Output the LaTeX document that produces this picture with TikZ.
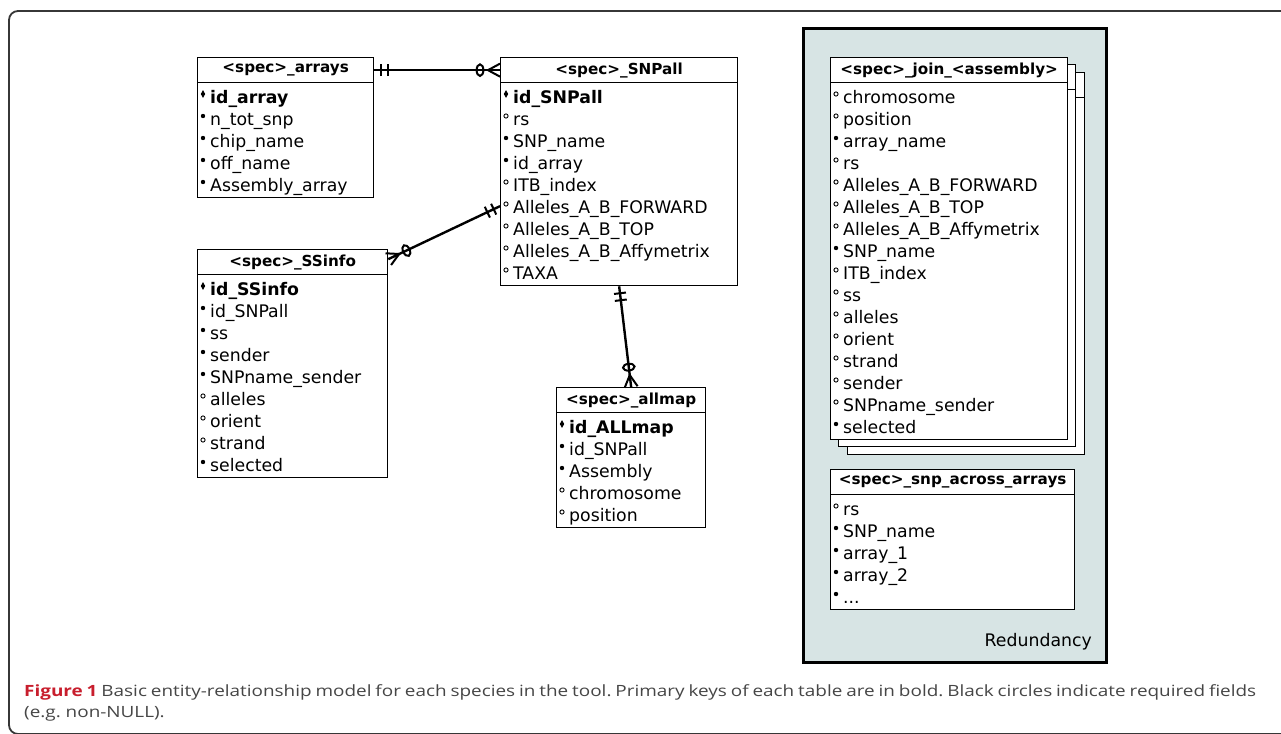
\documentclass[tikz,border=0pt]{standalone}
\usepackage{fontspec}
\setmainfont{DejaVu Sans}
\newfontfamily\capfont[FakeStretch=1.22]{Open Sans}
\usetikzlibrary{calc,decorations.markings}
\definecolor{panel}{RGB}{215,228,228}
\definecolor{figred}{RGB}{200,30,45}
\definecolor{capgray}{RGB}{70,70,70}
\definecolor{framegray}{RGB}{55,55,55}
\newcommand\fmk{\bfseries}
\newcommand\fmr{}
\newcommand\fmo{}
\newcommand\threedots{...}
\newcommand\dmk[1]{\fill (#1) ++(0pt,3.9pt) -- ++(2.2pt,-3.9pt) -- ++(-2.2pt,-3.9pt) -- ++(-2.2pt,3.9pt) -- cycle;}
\newcommand\dmr[1]{\fill (#1) circle (2.2pt);}
\newcommand\dmo[1]{\draw[line width=0.9pt] (#1) circle (2.1pt);}
\tikzset{
 tbl/.style={draw, line width=1.3pt, fill=white, inner sep=0pt, anchor=north west},
 hdr/.style={draw, line width=1.3pt, fill=white, inner sep=0pt, anchor=north west,
   minimum height=25pt, font=\bfseries\fontsize{15.2}{18}\selectfont},
 fld/.style={inner sep=0pt, anchor=base west, font=\fontsize{17.3}{22}\selectfont},
 er/.style={line width=2.4pt, postaction=decorate, decoration={markings,
   mark=at position 7pt with {\draw[line width=2pt] (0pt,-6pt)--(0pt,6pt);},
   mark=at position 14pt with {\draw[line width=2pt] (0pt,-6pt)--(0pt,6pt);},
   mark=at position -20pt with {\draw[line width=2pt] (0pt,0pt) ellipse [x radius=3.4pt, y radius=5.8pt];},
   mark=at position -12pt with {\draw[line width=2pt] (0pt,0pt)--(12pt,6.5pt) (0pt,0pt)--(12pt,-6.5pt);}}},
 captext/.style={anchor=base west, inner sep=0pt, font=\capfont\fontsize{15.5}{18}\selectfont\frenchspacing, text=capgray}
}
% #1 name, #2 x, #3 y, #4 width, #5 rows, #6 header, #7 list
\newcommand\ertable[7]{%
 \node[hdr, minimum width=#4pt] (#1H) at (#2,#3) {#6};
 \node[tbl, minimum width=#4pt, minimum height={27pt+22pt*(#5-1)}] (#1) at (#2,{#3+25}) {};
 \foreach \t/\s [count=\i from 0] in {#7} {
   \node[fld] (#1-\i) at ({#2+13},{#3+46+22*\i}) {\csname f\t\endcsname\s};
   \csname d\t\endcsname{{#2+6},{#3+37+22*\i}}
 }%
}
\begin{document}
\frenchspacing
\begin{tikzpicture}[x=1pt,y=-1pt]
\useasboundingbox (0,0) rectangle (1281,733);
\clip (0,0) rectangle (1281,733);
\fill[white] (0,0) rectangle (1281,733);
\draw[framegray, line width=1.8pt, rounded corners=9pt] (9,11) rectangle (1330,734);

% redundancy panel
\draw[fill=panel, line width=3pt] (803,29) rectangle (1106,662);

\ertable{arrays}{197}{57}{176}{5}{<spec>\_arrays}{mk/id\_array, mr/n\_tot\_snp, mr/chip\_name, mr/off\_name, mr/Assembly\_array}
\ertable{snpall}{500}{57}{237}{9}{<spec>\_SNPall}{mk/id\_SNPall, mo/rs, mr/SNP\_name, mr/id\_array, mo/ITB\_index, mo/Alleles\_A\_B\_FORWARD, mo/Alleles\_A\_B\_TOP, mo/Alleles\_A\_B\_Affymetrix, mo/TAXA}
\ertable{ssinfo}{197}{249}{190}{9}{<spec>\_SSinfo}{mk/id\_SSinfo, mr/id\_SNPall, mr/ss, mr/sender, mr/SNPname\_sender, mo/alleles, mo/orient, mo/strand, mr/selected}
\ertable{allmap}{556}{387}{149}{5}{<spec>\_allmap}{mk/id\_ALLmap, mr/id\_SNPall, mr/Assembly, mo/chromosome, mo/position}

% stacked copies of join table
\node[hdr, minimum width=237pt] (joinCcH) at (847,72) {};
\node[tbl, minimum width=237pt, minimum height=357pt] (joinCc) at (847,97) {};
\node[hdr, minimum width=237pt] (joinCbH) at (838,64) {};
\node[tbl, minimum width=237pt, minimum height=357pt] (joinCb) at (838,89) {};
\ertable{join}{830}{57}{237}{16}{<spec>\_join\_<assembly>}{mo/chromosome, mo/position, mr/array\_name, mo/rs, mo/Alleles\_A\_B\_FORWARD, mo/Alleles\_A\_B\_TOP, mo/Alleles\_A\_B\_Affymetrix, mr/SNP\_name, mo/ITB\_index, mo/ss, mo/alleles, mo/orient, mo/strand, mo/sender, mo/SNPname\_sender, mr/selected}
\ertable{across}{830}{469}{244}{5}{<spec>\_snp\_across\_arrays}{mo/rs, mr/SNP\_name, mr/array\_1, mr/array\_2, mr/\threedots}

\node[fld, anchor=base east] (redund) at (1092,646) {Redundancy};

% relationships
\draw[er] (arraysH.east) -- (snpallH.west);
\coordinate (snpallL) at ($(snpall.west)+(0,22)$);
\coordinate (ssinfoR) at ($(ssinfoH.east)+(0,-3)$);
\draw[er] (snpallL) -- (ssinfoR);
\draw[er] (snpall.south) -- (allmapH.north);

% caption
\node[captext] (cap1) at (24,696)
 {\hbox to 1232pt{\textcolor{figred}{\bfseries Figure 1} Basic entity-relationship model for each species in the tool. Primary keys of each table are in bold. Black circles indicate required fields}};
\node[captext] (cap2) at (24,717) {(e.g. non-NULL).};
\end{tikzpicture}
\end{document}
